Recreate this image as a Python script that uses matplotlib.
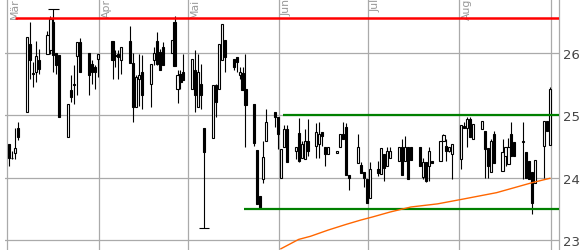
import numpy as np
import pandas as pd
import matplotlib
matplotlib.use('Agg')
import matplotlib.pyplot as plt

# trading days as offsets from 2021-03-01, OHLC
days = [1, 2, 3, 4, 7, 8, 9, 10, 11, 14, 15, 16, 17, 18, 21, 22, 23, 24, 25,
        28, 29, 30, 31, 36, 37, 38, 39, 42, 43, 44, 45, 46, 49, 50, 51, 52, 53,
        56, 57, 58, 59, 60, 63, 64, 65, 66, 67, 70, 71, 72, 73, 74, 77, 78, 79,
        80, 81, 84, 85, 86, 87, 88, 91, 92, 93, 94, 95, 98, 99, 100, 101, 102,
        105, 106, 107, 108, 109, 112, 113, 114, 115, 116, 119, 120, 121, 122,
        123, 126, 127, 128, 129, 130, 133, 134, 135, 136, 137, 140, 141, 142,
        143, 144, 147, 148, 149, 150, 151, 154, 155, 156, 157, 158, 161, 162,
        163, 164, 165, 168, 169, 170, 171, 172, 175, 176, 177, 178, 179, 182,
        183, 184]
opens = [24.54, 24.32, 24.40, 24.79, 25.05, 26.14, 25.68, 25.69, 25.89, 25.98,
         26.04, 26.50, 26.00, 25.96, 24.65, 25.40, 25.51, 25.95, 26.18, 26.00,
         25.82, 25.77, 25.90, 26.19, 25.97, 25.98, 25.88, 26.19, 25.84, 25.14,
         25.58, 25.69, 25.50, 25.88, 26.19, 26.01, 26.09, 26.00, 26.50, 25.43,
         25.66, 25.69, 25.43, 25.73, 25.14, 25.51, 24.80, 24.63, 25.49, 25.43,
         25.89, 26.21, 25.91, 25.93, 25.64, 25.68, 25.43, 25.18, 24.44, 23.71,
         23.98, 24.59, 25.05, 24.98, 23.99, 24.49, 24.78, 24.43, 24.72, 24.31,
         24.30, 24.59, 24.51, 24.54, 24.74, 24.49, 24.38, 24.40, 24.49, 24.70,
         24.82, 24.04, 24.24, 24.21, 24.09, 23.98, 23.68, 24.14, 24.06, 24.38,
         24.19, 24.31, 24.26, 24.49, 24.27, 24.49, 24.49, 24.49, 24.01, 24.25,
         24.19, 24.26, 24.27, 24.59, 24.51, 24.43, 24.38, 24.30, 24.83, 24.79,
         24.94, 24.62, 24.78, 24.75, 24.47, 24.09, 24.70, 24.11, 24.35, 24.22,
         24.70, 24.57, 24.57, 24.41, 24.27, 24.09, 23.91, 24.51, 24.91, 24.52]
highs = [24.54, 24.43, 24.79, 24.89, 26.25, 26.49, 25.85, 26.20, 26.06, 26.35,
         26.60, 26.71, 26.00, 25.96, 25.18, 25.64, 25.80, 26.18, 26.24, 26.00,
         25.88, 25.80, 25.98, 26.19, 26.04, 26.04, 26.09, 26.44, 26.00, 25.64,
         25.98, 25.97, 25.83, 26.09, 26.33, 26.06, 26.18, 26.21, 26.60, 25.73,
         25.72, 25.98, 25.91, 26.04, 25.98, 25.82, 24.80, 25.49, 25.50, 26.14,
         26.47, 26.21, 25.91, 25.93, 25.77, 25.77, 25.98, 25.18, 24.44, 23.71,
         24.59, 25.10, 25.05, 24.98, 24.46, 24.85, 24.85, 24.49, 24.95, 24.59,
         24.78, 24.94, 24.88, 24.89, 24.74, 24.49, 24.49, 24.43, 24.70, 24.89,
         24.87, 24.04, 24.70, 24.25, 24.09, 23.98, 24.25, 24.26, 24.47, 24.38,
         24.49, 24.49, 24.49, 24.62, 24.67, 24.49, 24.49, 24.49, 24.31, 24.25,
         24.49, 24.26, 24.59, 24.70, 24.62, 24.49, 24.54, 24.85, 24.90, 24.98,
         24.97, 24.86, 24.91, 24.75, 24.47, 24.62, 24.75, 24.62, 24.49, 24.63,
         24.89, 24.57, 24.89, 24.41, 24.27, 24.09, 24.29, 24.91, 24.91, 25.45]
lows = [24.19, 24.30, 24.30, 24.60, 25.05, 25.58, 25.45, 25.53, 25.66, 25.98,
        25.98, 25.69, 25.66, 24.98, 24.65, 25.21, 25.18, 25.32, 25.69, 25.32,
        25.50, 25.42, 25.61, 25.58, 25.77, 25.58, 25.66, 25.84, 24.89, 25.14,
        25.15, 25.10, 25.14, 25.80, 25.80, 25.72, 25.80, 26.00, 25.79, 25.20,
        25.42, 25.56, 25.43, 25.05, 25.14, 25.10, 23.20, 24.63, 24.98, 25.43,
        25.89, 25.69, 25.72, 25.69, 25.58, 25.40, 24.49, 24.51, 23.58, 23.51,
        23.92, 24.59, 24.81, 24.46, 23.99, 24.49, 24.25, 24.30, 24.25, 24.31,
        24.30, 24.34, 24.31, 24.31, 24.51, 24.19, 24.38, 24.40, 24.49, 24.62,
        24.04, 23.81, 24.24, 24.07, 23.85, 23.60, 23.68, 24.03, 24.06, 23.95,
        24.19, 24.31, 24.26, 24.04, 24.26, 23.98, 24.29, 24.19, 23.98, 23.93,
        23.95, 24.23, 24.27, 24.59, 24.27, 24.41, 23.98, 24.14, 24.79, 24.49,
        24.65, 24.62, 24.78, 24.00, 24.00, 24.09, 24.24, 24.11, 24.19, 24.22,
        24.35, 24.34, 23.98, 24.00, 23.98, 23.42, 23.91, 24.00, 24.75, 24.52]
closes = [24.31, 24.31, 24.48, 24.65, 26.25, 25.88, 25.66, 25.95, 25.75, 26.29,
          26.55, 25.96, 25.80, 24.98, 25.18, 25.29, 25.48, 26.18, 25.69, 25.64,
          25.69, 25.69, 25.98, 25.88, 25.95, 25.93, 26.09, 25.84, 25.14, 25.61,
          25.65, 25.32, 25.83, 26.00, 25.82, 25.72, 25.80, 26.21, 25.79, 25.65,
          25.53, 25.56, 25.91, 25.33, 25.69, 25.33, 24.41, 25.49, 25.21, 26.14,
          26.47, 25.93, 25.78, 25.86, 25.69, 25.40, 25.17, 24.56, 23.58, 23.52,
          24.33, 24.89, 24.98, 24.70, 24.46, 24.78, 24.25, 24.49, 24.26, 24.54,
          24.59, 24.43, 24.74, 24.70, 24.67, 24.38, 24.49, 24.43, 24.70, 24.62,
          24.04, 24.00, 24.49, 24.07, 23.99, 23.60, 24.14, 24.07, 24.47, 24.15,
          24.43, 24.43, 24.49, 24.04, 24.49, 23.98, 24.29, 24.19, 24.25, 23.95,
          24.42, 24.23, 24.59, 24.68, 24.43, 24.49, 24.54, 24.84, 24.79, 24.94,
          24.65, 24.86, 24.91, 24.46, 24.19, 24.59, 24.24, 24.41, 24.49, 24.49,
          24.35, 24.34, 24.59, 24.00, 23.98, 23.60, 24.29, 24.91, 24.75, 25.42]

# moving average (orange) as read at a few points
ma_days = [93, 99, 103, 109, 115, 120, 124, 130, 137, 146, 155, 166, 178, 184]
ma_vals = [22.86, 23.01, 23.06, 23.16, 23.25, 23.32, 23.37, 23.45, 23.53, 23.58,
           23.66, 23.76, 23.92, 23.99]

# horizontal levels: value, start day
red_level = (26.56, 2.6)
green_levels = [(25.00, 93.3), (23.50, 80.1)]

month_names = ['Mär', 'Apr', 'Mai', 'Jun', 'Jul', 'Aug']
start = pd.Timestamp('2021-03-01')
month_days = [(d - start).days for d in pd.date_range(start, periods=7, freq='MS')]

o = np.array(opens)
h = np.array(highs)
l = np.array(lows)
c = np.array(closes)
x = np.array(days) - 0.4

fig = plt.figure(figsize=(5.86, 2.51), dpi=100)
ax = fig.add_axes([5 / 586, 0, 554 / 586, 1])
ax.set_xlim(-0.78, 186.7)
ax.set_ylim(22.84, 26.866)

for s in ['left', 'top', 'bottom']:
    ax.spines[s].set_visible(False)
ax.spines['right'].set_color('#aaaaaa')
ax.spines['right'].set_linewidth(0.9)

ax.yaxis.tick_right()
ax.set_yticks([23, 24, 25, 26])
ax.tick_params(axis='y', length=0, pad=3, labelsize=9.5, labelcolor='#444444')
ax.set_xticks([])
ax.grid(axis='y', color='#aaaaaa', linewidth=0.9, zorder=0)
ax.set_axisbelow(True)

for d in month_days:
    ax.axvline(d, color='#aaaaaa', linewidth=0.9, zorder=0)
for d, name in zip(month_days, month_names):
    ax.annotate(name, xy=(d, 26.866), xytext=(2, 1), textcoords='offset points',
                rotation=90, ha='left', va='top', fontsize=7.8, color='#999999')

# candles
ax.vlines(x, l, h, color='black', linewidth=0.8, zorder=2)
up = c >= o
body = np.maximum(np.abs(c - o), 0.01)
ax.bar(x, body, bottom=np.minimum(o, c), width=0.72,
       color=np.where(up, 'white', 'black'), edgecolor='black',
       linewidth=0.8, zorder=3)

# caps at the period high and low
ih = np.argmax(h)
il = np.argmin(l)
ax.hlines([h[ih], l[il]], [x[ih] - 1.8, x[il] - 1.8], [x[ih] + 1.8, x[il] + 1.8],
          color='black', linewidth=0.8, zorder=3)

ax.hlines(red_level[0], red_level[1], 186.7, color='#ff0000', linewidth=1.8, zorder=4)
for val, d0 in green_levels:
    ax.hlines(val, d0, 186.7, color='#008000', linewidth=1.6, zorder=4)

ax.plot(np.array(ma_days) - 0.4, ma_vals, color='#ff6600', linewidth=1.0, zorder=4)

fig.savefig('out.png', dpi=100)
